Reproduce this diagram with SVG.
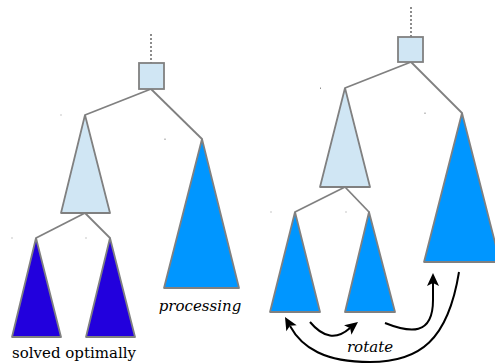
<svg xmlns="http://www.w3.org/2000/svg" width="495" height="364" viewBox="0 0 495 364">
  <style>
    .edge { stroke: #808080; stroke-width: 1.8; fill: none; }
    .dots { stroke: #808080; stroke-width: 1.8; stroke-dasharray: 2 2; fill: none; }
    .box { fill: #d0e6f4; stroke: #808080; stroke-width: 1.8; }
    .light { fill: #d0e6f4; stroke: #808080; stroke-width: 1.8; stroke-linejoin: round; }
    .work { fill: #0096ff; stroke: #808080; stroke-width: 1.8; stroke-linejoin: round; }
    .done { fill: #2200dd; stroke: #808080; stroke-width: 1.8; stroke-linejoin: round; }
    .mark { fill: #909090; }
    .move { stroke: #000; stroke-width: 2; fill: none; }
    .tip { fill: #000; }
    .lbl { font-family: "DejaVu Serif", "Liberation Serif", serif; font-size: 15px; fill: #000; }
  </style>
  <defs>
    <!-- arrowhead pointing along +x, tip at origin -->
    <path id="tip" class="tip" d="M0,0 L-13,-6 L-10,0 L-13,6 z"/>
  </defs>

  <!-- tree edges -->
  <g id="connectors">
    <line class="dots" x1="151" y1="34" x2="151" y2="63"/>
    <line class="edge" x1="151" y1="89" x2="85" y2="115"/>
    <line class="edge" x1="151" y1="89" x2="202" y2="139"/>
    <line class="edge" x1="85" y1="213" x2="36" y2="238"/>
    <line class="edge" x1="85" y1="213" x2="110" y2="238"/>

    <line class="dots" x1="411" y1="7" x2="411" y2="37"/>
    <line class="edge" x1="411" y1="62" x2="345" y2="88"/>
    <line class="edge" x1="411" y1="62" x2="462" y2="113"/>
    <line class="edge" x1="345" y1="187" x2="295" y2="212"/>
    <line class="edge" x1="345" y1="187" x2="369" y2="212"/>

    <!-- rotation moves -->
    <path class="move" d="M310,322 Q330,346 350,328"/>
    <use href="#tip" transform="translate(358,322) rotate(-38)"/>
    <path class="move" d="M385,323 C410,333 433,336 433,300 L433,282"/>
    <use href="#tip" transform="translate(433,273) rotate(-90)"/>
    <path class="move" d="M459,272 C448,340 420,362 370,362 C325,362 302,348 290,326"/>
    <use href="#tip" transform="translate(285,317) rotate(-120)"/>
  </g>

  <!-- left tree -->
  <g id="root-left"><rect class="box" x="139" y="63" width="25" height="26"/></g>
  <g id="sub-left"><polygon class="light" points="85,115 61,213 110,213"/></g>
  <g id="leaf-left-a"><polygon class="done" points="36,238 12,337 61,337"/></g>
  <g id="leaf-left-b"><polygon class="done" points="110,238 86,337 135,337"/></g>
  <g id="sub-processing"><polygon class="work" points="202,139 164,288 239,288"/></g>

  <!-- right tree -->
  <g id="root-right"><rect class="box" x="398" y="37" width="25" height="25"/></g>
  <g id="sub-right"><polygon class="light" points="345,88 320,187 370,187"/></g>
  <g id="leaf-right-a"><polygon class="work" points="295,212 270,312 320,312"/></g>
  <g id="leaf-right-b"><polygon class="work" points="369,212 345,312 395,312"/></g>
  <g id="sub-right-big"><polygon class="work" points="462,113 424,262 500,262"/></g>

  <!-- small tick marks -->
  <g id="ticks">
    <rect class="mark" x="60.5" y="114.5" width="1" height="1"/>
    <rect class="mark" x="164.5" y="138.5" width="1" height="1.5"/>
    <rect class="mark" x="11.5" y="237.5" width="1" height="1"/>
    <rect class="mark" x="85.5" y="237.5" width="1" height="1"/>
    <rect class="mark" x="320" y="87.5" width="1" height="1.5"/>
    <rect class="mark" x="424.5" y="112.5" width="1" height="1.5"/>
    <rect class="mark" x="270.5" y="211.5" width="1" height="1"/>
    <rect class="mark" x="345.5" y="211.5" width="1" height="1"/>
  </g>

  <!-- labels -->
  <g id="labels">
    <text class="lbl" x="200" y="311" text-anchor="middle" font-style="italic">processing</text>
    <text class="lbl" x="74" y="358" text-anchor="middle">solved optimally</text>
    <text class="lbl" x="370" y="352" text-anchor="middle" font-style="italic">rotate</text>
  </g>
</svg>
